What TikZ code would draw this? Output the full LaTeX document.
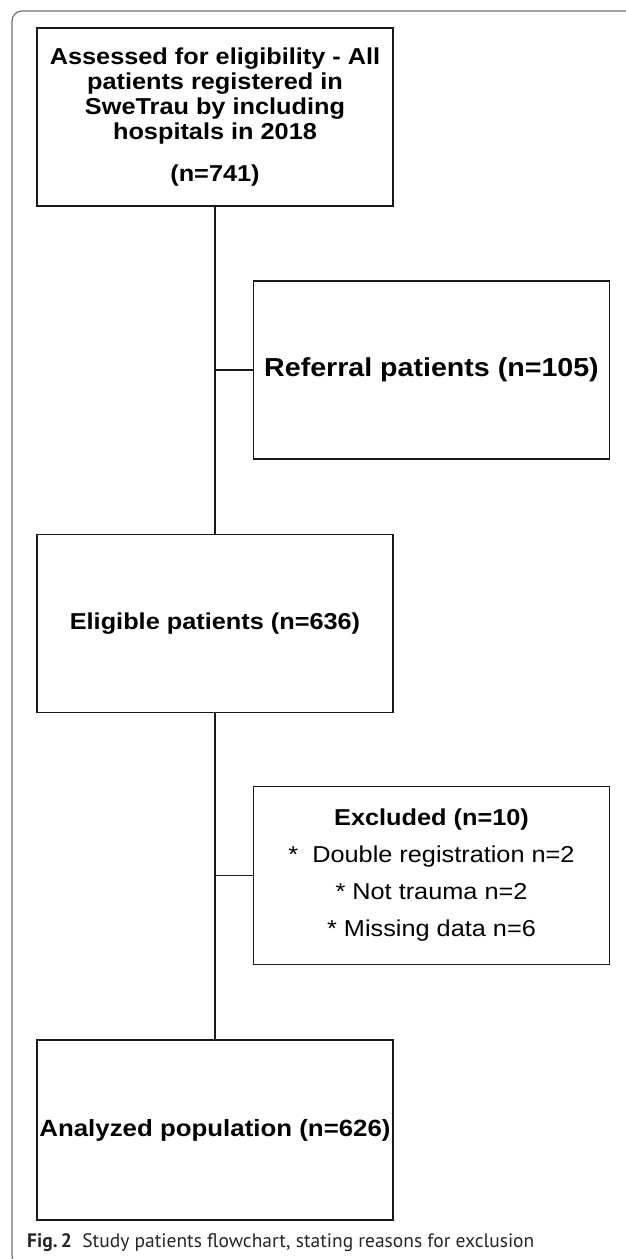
\documentclass[tikz,border=0pt]{standalone}
\usepackage{fontspec}
\newfontfamily\bx[FakeStretch=1.1]{Liberation Sans}
\newfontfamily\capfont{PT Sans}
\begin{document}
\begin{tikzpicture}[x=1pt,y=-1pt,
  flowbox/.style={draw=black!90, line width=1.8pt, rectangle, inner sep=0pt, align=center,
    minimum width=356pt, minimum height=178pt},
  conn/.style={draw=black!90, line width=1.8pt},
  frame/.style={draw=black!55, line width=1.3pt, rounded corners=10pt}]
\useasboundingbox (0,0) rectangle (625,1259);
\draw[frame] (640,11) -- (12,11) -- (12,1266) -- (40,1266);

\node[flowbox, font={\bx\bfseries\fontsize{23}{25}\selectfont}] (assessed) at (215,117)
  {Assessed for eligibility - All\\patients registered in\\SweTrau by including\\hospitals in 2018\\[17pt](n=741)};
\node[flowbox, font={\bx\bfseries\fontsize{26}{28}\selectfont}] (referral) at (431.5,370)
  {Referral patients (n=105)};
\node[flowbox, font={\bx\bfseries\fontsize{23}{25}\selectfont}] (eligible) at (215,623.5)
  {Eligible patients (n=636)};
\node[flowbox, font={\bx\fontsize{23}{37}\selectfont}] (excluded) at (431.5,875.5)
  {{\bfseries Excluded (n=10)}\\{*}\ \ Double registration n=2\\{*} Not trauma n=2\\{*} Missing data n=6};
\node[flowbox, minimum height=180pt, font={\bx\bfseries\fontsize{23.5}{25}\selectfont}] (analyzed) at (215,1130)
  {Analyzed population (n=626)};

\draw[conn] (assessed.south) -- (eligible.north);
\draw[conn] (eligible.south) -- (analyzed.north);
\draw[conn] (referral.west) -- (referral.west -| assessed.south);
\draw[conn] (excluded.west) -- (excluded.west -| eligible.south);

\node[anchor=base west, inner sep=0pt, font={\capfont\fontsize{19.5}{22}\selectfont}, text=black!85] (caption) at (27,1247)
  {{\bfseries Fig.\,2}\ \ Study patients flowchart, stating reasons for exclusion};
\end{tikzpicture}
\end{document}
